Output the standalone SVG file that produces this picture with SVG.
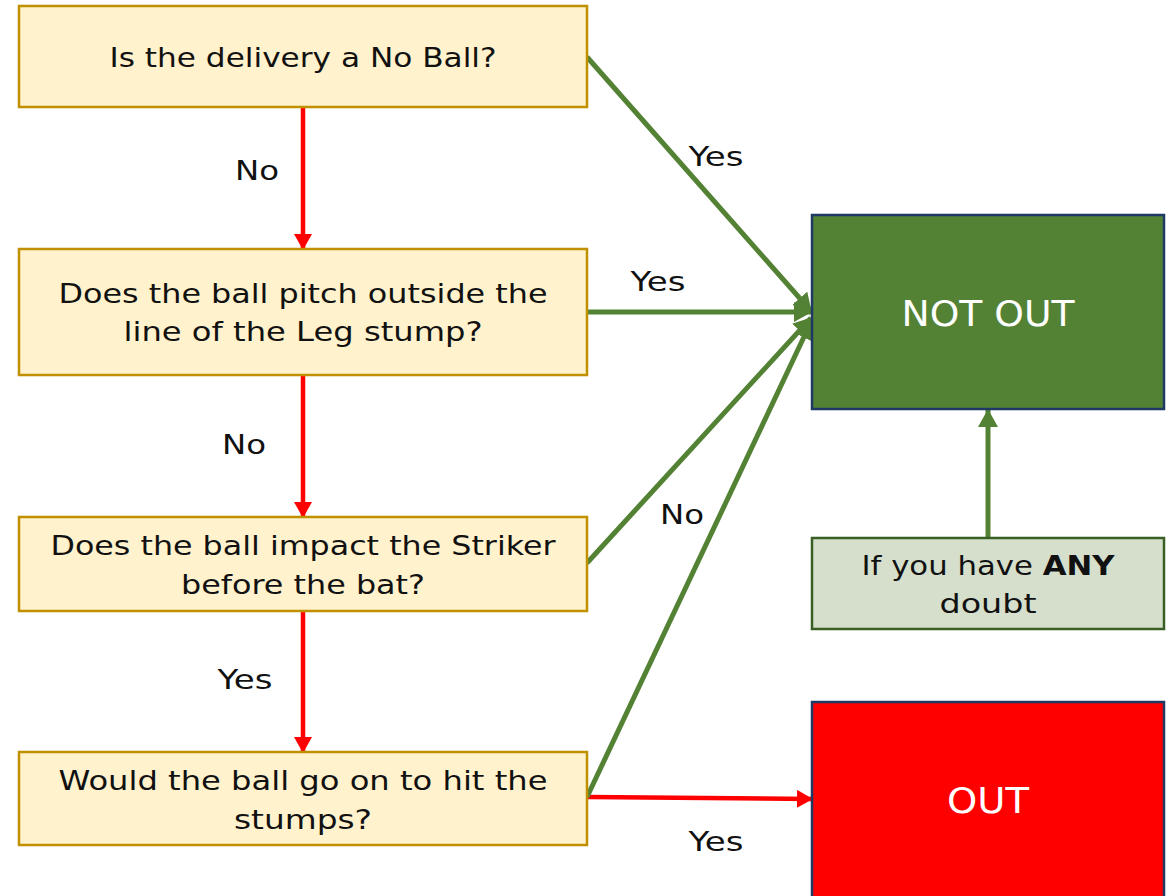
<svg xmlns="http://www.w3.org/2000/svg" width="1173" height="896" viewBox="0 0 1173 896">
<style>
.q{fill:#FFF2CC;stroke:#BF9000;stroke-width:2.5}
.t{font-family:"DejaVu Sans","Liberation Sans",sans-serif;font-size:27px;fill:#111;text-anchor:middle}
.l{font-family:"DejaVu Sans","Liberation Sans",sans-serif;font-size:27px;fill:#111;text-anchor:middle}
.w{font-family:"DejaVu Sans","Liberation Sans",sans-serif;font-size:35px;fill:#fff;text-anchor:middle}
.r{stroke:#FF0000;stroke-width:4.5;fill:none}
.g{stroke:#548235;stroke-width:5;fill:none}
</style>
<defs>
<marker id="ar" markerUnits="userSpaceOnUse" markerWidth="16" markerHeight="18" refX="15" refY="9" orient="auto"><path d="M0,0 L16,9 L0,18 Z" fill="#FF0000"/></marker>
<marker id="ag" markerUnits="userSpaceOnUse" markerWidth="18" markerHeight="20" refX="17" refY="10" orient="auto"><path d="M0,0 L18,10 L0,20 Z" fill="#548235"/></marker>
</defs>
<g id="connectors">
<line class="r" x1="303" y1="108" x2="303" y2="249" marker-end="url(#ar)"/>
<line class="r" x1="303" y1="376" x2="303" y2="517" marker-end="url(#ar)"/>
<line class="r" x1="303" y1="612" x2="303" y2="752" marker-end="url(#ar)"/>
<line class="r" x1="588" y1="797" x2="812" y2="799" marker-end="url(#ar)"/>
<line class="g" x1="587" y1="57" x2="811" y2="311" marker-end="url(#ag)"/>
<line class="g" x1="588" y1="312" x2="811" y2="312" marker-end="url(#ag)"/>
<line class="g" x1="587" y1="563" x2="811" y2="318" marker-end="url(#ag)"/>
<line class="g" x1="587" y1="797" x2="811" y2="322" marker-end="url(#ag)"/>
<line class="g" x1="988" y1="538" x2="988" y2="410" marker-end="url(#ag)"/>
<text class="l" x="257" y="180" textLength="44" lengthAdjust="spacingAndGlyphs">No</text>
<text class="l" x="716" y="166" textLength="55" lengthAdjust="spacingAndGlyphs">Yes</text>
<text class="l" x="658" y="291" textLength="55" lengthAdjust="spacingAndGlyphs">Yes</text>
<text class="l" x="244" y="454" textLength="44" lengthAdjust="spacingAndGlyphs">No</text>
<text class="l" x="682" y="524" textLength="44" lengthAdjust="spacingAndGlyphs">No</text>
<text class="l" x="245" y="689" textLength="55" lengthAdjust="spacingAndGlyphs">Yes</text>
<text class="l" x="716" y="851" textLength="55" lengthAdjust="spacingAndGlyphs">Yes</text>
</g>
<g id="q1"><rect class="q" x="19" y="6" width="568" height="101"/><text class="t" x="303" y="67" textLength="387" lengthAdjust="spacingAndGlyphs">Is the delivery a No Ball?</text></g>
<g id="q2"><rect class="q" x="19" y="249" width="568" height="126"/><text class="t" x="303" y="303" textLength="489" lengthAdjust="spacingAndGlyphs">Does the ball pitch outside the</text><text class="t" x="303" y="341" textLength="359" lengthAdjust="spacingAndGlyphs">line of the Leg stump?</text></g>
<g id="q3"><rect class="q" x="19" y="517" width="568" height="94"/><text class="t" x="303" y="555" textLength="505" lengthAdjust="spacingAndGlyphs">Does the ball impact the Striker</text><text class="t" x="303" y="594" textLength="244" lengthAdjust="spacingAndGlyphs">before the bat?</text></g>
<g id="q4"><rect class="q" x="19" y="752" width="568" height="93"/><text class="t" x="303" y="790" textLength="489" lengthAdjust="spacingAndGlyphs">Would the ball go on to hit the</text><text class="t" x="303" y="829" textLength="138" lengthAdjust="spacingAndGlyphs">stumps?</text></g>
<g id="notout"><rect x="812" y="215" width="352" height="194" fill="#548235" stroke="#1F3864" stroke-width="2.5"/><text class="w" x="988" y="326" textLength="173" lengthAdjust="spacingAndGlyphs">NOT OUT</text></g>
<g id="doubt"><rect x="812" y="538" width="352" height="91" fill="#D5DFCC" stroke="#3A5F24" stroke-width="2.5"/><text class="t" x="988" y="575" textLength="253" lengthAdjust="spacingAndGlyphs">If you have <tspan font-weight="bold">ANY</tspan></text><text class="t" x="988" y="613" textLength="97" lengthAdjust="spacingAndGlyphs">doubt</text></g>
<g id="out"><rect x="812" y="702" width="352" height="200" fill="#FF0000" stroke="#1F3864" stroke-width="2.5"/><text class="w" x="988" y="813" textLength="82" lengthAdjust="spacingAndGlyphs">OUT</text></g>
</svg>
